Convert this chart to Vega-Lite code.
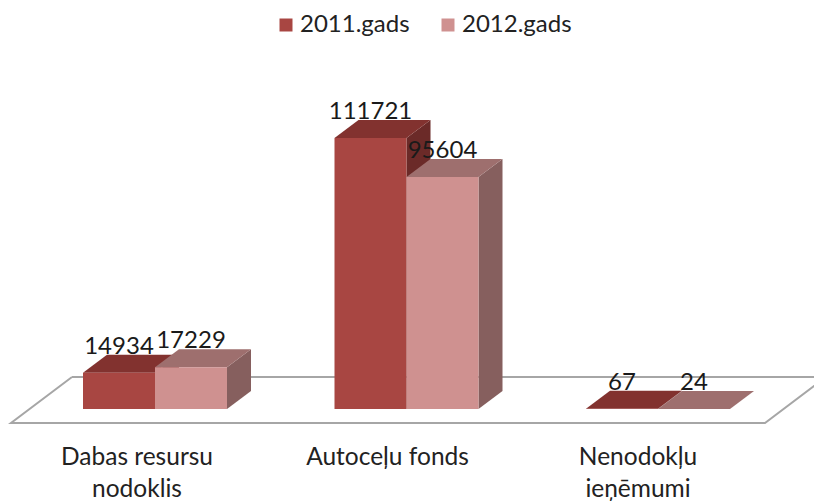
{
"$schema":"https://vega.github.io/schema/vega-lite/v6.json",
"width":814,"height":440,"autosize":{"type":"none"},"padding":{"left":0,"right":0,"top":0,"bottom":61},
"background":"white",
"config":{"view":{"stroke":null},"font":"Lato"},
"datasets":{"floor":[{"corner":1,"across":72,"level":13190},{"corner":2,"across":826,"level":13190},{"corner":3,"across":765,"level":-5771},{"corner":4,"across":11,"level":-5771},{"corner":5,"across":72,"level":13190}]},
"data":{"values":[
{"category":"Dabas resursu nodoklis","series":"2011.gads","value":14934},
{"category":"Dabas resursu nodoklis","series":"2012.gads","value":17229},
{"category":"Autoceļu fonds","series":"2011.gads","value":111721},
{"category":"Autoceļu fonds","series":"2012.gads","value":95604},
{"category":"Nenodokļu ieņēmumi","series":"2011.gads","value":67},
{"category":"Nenodokļu ieņēmumi","series":"2012.gads","value":24}
]},
"transform":[
{"calculate":"[0,1]","as":"t"},{"flatten":["t"]},
{"calculate":"83+251.5*indexof(['Dabas resursu nodoklis','Autoceļu fonds','Nenodokļu ieņēmumi'],datum.category)+(datum.series=='2011.gads'?0:72)+24*datum.t","as":"fl"},
{"calculate":"datum.fl+72","as":"fr"},
{"calculate":"datum.value+7420*datum.t","as":"top"},
{"calculate":"7420*datum.t","as":"base"},
{"calculate":"datum.fl+12","as":"mid"}
],
"layer":[
{"data":{"name":"floor"},"transform":[],"mark":{"type":"line","color":"#a6a6a6","strokeWidth":2,"clip":true},
 "encoding":{"order":{"field":"corner","type":"ordinal"},
  "x":{"field":"across","type":"quantitative","axis":null,"scale":{"domain":[0,814],"nice":false,"zero":false}},
  "y":{"field":"level","type":"quantitative","axis":null,"scale":{"domain":[-12778,168590],"nice":false,"zero":false}}}},
{"transform":[{"filter":"datum.t==0"}],"mark":{"type":"rect","opacity":0},
 "encoding":{"x":{"field":"category","type":"nominal","sort":null,"title":null,
   "scale":{"type":"band","range":[11.75,763.25],"paddingInner":0,"paddingOuter":0},
   "axis":{"title":null,"domain":false,"ticks":false,"labelAngle":0,"labelFontSize":24.5,"labelColor":"#222222","labelPadding":5,"labelLineHeight":32,"labelLimit":400,"labelOverlap":false,"labelBaseline":"top",
    "labelExpr":"datum.label=='Dabas resursu nodoklis'?['Dabas resursu','nodoklis']:datum.label=='Nenodokļu ieņēmumi'?['Nenodokļu','ieņēmumi']:datum.label"}},
  "y":{"datum":0,"type":"quantitative","axis":null}}},
{"transform":[{"filter":"datum.series=='2011.gads'"}],"mark":{"type":"area","color":"#6b2a28"},
 "encoding":{"detail":{"field":"category"},"x":{"field":"fr","type":"quantitative","axis":null,"scale":{"domain":[0,814],"nice":false,"zero":false}},"y":{"field":"top","type":"quantitative","axis":null,"stack":null},"y2":{"field":"base"}}},
{"transform":[{"filter":"datum.series=='2011.gads'"}],"mark":{"type":"area","orient":"horizontal","color":"#82322f"},
 "encoding":{"detail":{"field":"category"},"y":{"field":"top","type":"quantitative","axis":null},"x":{"field":"fl","type":"quantitative","axis":null,"stack":null,"scale":{"domain":[0,814],"nice":false,"zero":false}},"x2":{"field":"fr"}}},
{"transform":[{"filter":"datum.series=='2012.gads'"}],"mark":{"type":"area","color":"#865f5e"},
 "encoding":{"detail":{"field":"category"},"x":{"field":"fr","type":"quantitative","axis":null,"scale":{"domain":[0,814],"nice":false,"zero":false}},"y":{"field":"top","type":"quantitative","axis":null,"stack":null},"y2":{"field":"base"}}},
{"transform":[{"filter":"datum.series=='2012.gads'"}],"mark":{"type":"area","orient":"horizontal","color":"#9e6f6e"},
 "encoding":{"detail":{"field":"category"},"y":{"field":"top","type":"quantitative","axis":null},"x":{"field":"fl","type":"quantitative","axis":null,"stack":null,"scale":{"domain":[0,814],"nice":false,"zero":false}},"x2":{"field":"fr"}}},
{"transform":[{"filter":"datum.t==0"}],"mark":{"type":"rect"},
 "encoding":{"x":{"field":"fl","type":"quantitative","axis":null,"scale":{"domain":[0,814],"nice":false,"zero":false}},"x2":{"field":"fr"},
  "y":{"field":"top","type":"quantitative","axis":null},"y2":{"field":"base"},
  "color":{"field":"series","type":"nominal","scale":{"domain":["2011.gads","2012.gads"],"range":["#a84642","#cf9190"]},
   "legend":{"title":null,"orient":"none","legendX":274,"legendY":13,"direction":"horizontal","columns":2,"symbolType":"square","symbolSize":169,"labelFontSize":24,"labelColor":"#222222","labelOffset":2,"columnPadding":26,"symbolStrokeWidth":0,"symbolOpacity":1}}}},
{"transform":[{"filter":"datum.t==1"}],"mark":{"type":"text","baseline":"alphabetic","dy":-1,"fontSize":24,"color":"#1a1a1a"},
 "encoding":{"x":{"field":"mid","type":"quantitative","axis":null,"scale":{"domain":[0,814],"nice":false,"zero":false}},
  "y":{"field":"top","type":"quantitative","axis":null},"text":{"field":"value","type":"quantitative","format":"d"}}}
],
"resolve":{"scale":{"x":"independent"},"axis":{"x":"independent"}}
}
